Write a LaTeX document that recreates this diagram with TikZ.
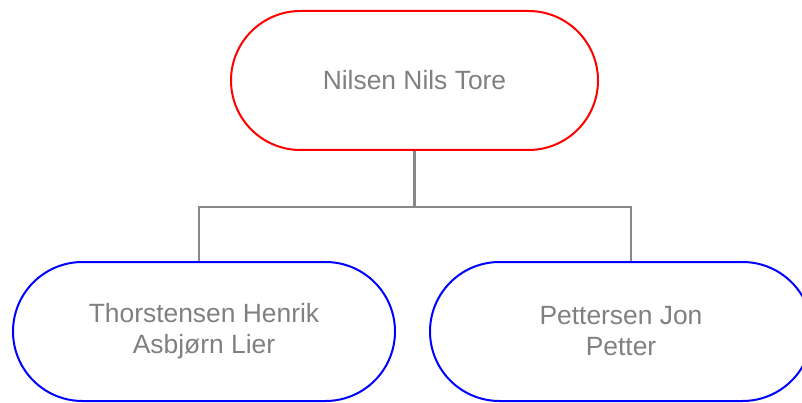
\documentclass[tikz,border=0pt]{standalone}
\usepackage{fontspec}
\setmainfont{Liberation Sans}
\usetikzlibrary{shapes.misc}
\definecolor{txtgray}{HTML}{808080}
\definecolor{linegray}{HTML}{888888}
\tikzset{
  person/.style={rounded rectangle, draw, line width=2pt, inner sep=0pt,
    minimum height=139pt, align=center, text=txtgray,
    font=\fontsize{26.4}{31}\selectfont},
  boss/.style={person, draw=red, minimum width=367pt},
  staff/.style={person, draw=blue, minimum width=382pt},
  conn/.style={draw=linegray, line width=2.5pt}
}
\begin{document}
\begin{tikzpicture}[x=1pt,y=-1pt]
    \useasboundingbox (0,0) rectangle (802,403);

    \node[boss] (top) at (414.5,80.5) {Nilsen Nils Tore};

    \node[staff] (left) at (204,331.5) {Thorstensen Henrik\\Asbjørn Lier};
    \node[staff] (right) at (621,331.5) {Pettersen Jon\\Petter};

    \coordinate (busL) at (199,207);
    \coordinate (busR) at (631,207);

    \draw[conn] (top.south) -- (top.south |- busL);
    \draw[conn] (left.north -| busL) -- (busL) -- (busR) -- (right.north -| busR);

\end{tikzpicture}
\end{document}
